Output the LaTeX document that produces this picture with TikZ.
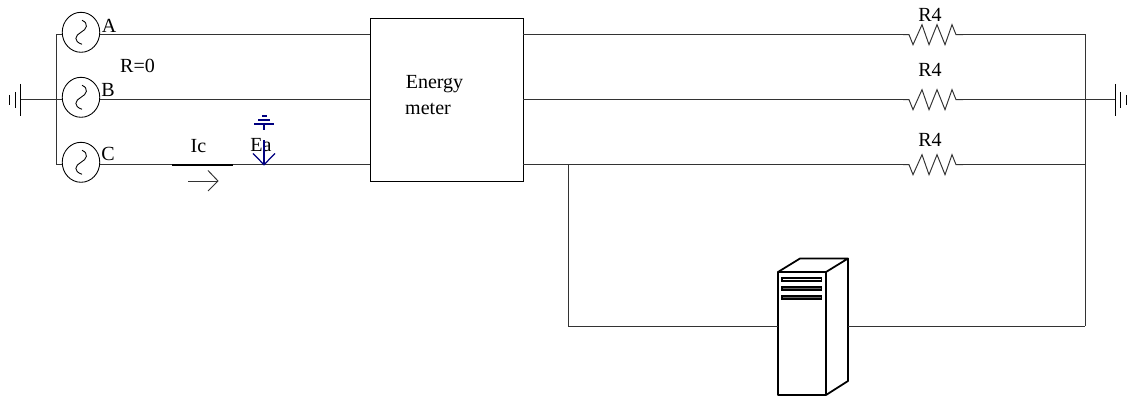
\documentclass[tikz,border=0pt]{standalone}
\usepackage{fontspec}
\setmainfont{Liberation Serif}
\usetikzlibrary{shapes.geometric}
\tikzset{
    wire/.style={line width=0.55pt, black!80},
    phase/.style={draw, ellipse, line width=0.5pt, inner sep=0pt, minimum width=37.5*0.02cm, minimum height=40*0.02cm},
    lbl/.style={inner sep=0pt, font=\fontsize{11.4pt}{13pt}\selectfont},
    pics/wave/.style={code={\draw[line width=0.5pt] (1,-12) .. controls (8,-9) and (6,-3) .. (0,0) .. controls (-6,3) and (-8,9) .. (1,12);}},
    pics/zigzag/.style={code={\draw[wire] (-27,0) -- (-21,0) -- (-17,10) -- (-8,-10) -- (-1,10) -- (7,-10) -- (15,10) -- (22,-10) -- (26,0) -- (33,0);}},
}
\begin{document}
\begin{tikzpicture}[x=0.02cm, y=-0.02cm]
                    \useasboundingbox (0,0) rectangle (1129,398);

                    \node[phase] (SA) at (81,32.3) {};
                    \node[phase] (SB) at (81,97.3) {};
                    \node[phase] (SC) at (81,162.3) {};
                    \pic at (SA) {wave};
                    \pic at (SB) {wave};
                    \pic at (SC) {wave};
                    \node[lbl, anchor=base west] (LA) at (101.5,32.5) {A};
                    \node[lbl, anchor=base west] (LB) at (101,96.5) {B};
                    \node[lbl, anchor=base west] (LC) at (101,160.5) {C};
                    \node[lbl] (R0) at (137.5,66) {R=0};

                    \node[draw, line width=0.55pt, minimum width=153*0.02cm, minimum height=163*0.02cm, inner sep=0pt] (EM) at (446.5,99.5) {};
                    \node[lbl] (E1) at (434.5,84.5) {Energy};
                    \node[lbl] (E2) at (428,108.5) {meter};

                    % left bus
                    \coordinate (BA) at (56,34.7);
                    \coordinate (BB) at (56,99.7);
                    \coordinate (BC) at (56,164.7);
                    \coordinate (GL) at (20.5,99.7);
                    \draw[wire] (SA.west |- BA) -- (BA) -- (BC) -- (SC.west |- BC);
                    \draw[wire] (GL) -- (SB.west |- BB);
                    \draw[line width=0.55pt] (20.5,84) -- (20.5,116);
                    \draw[line width=0.55pt] (15,92) -- (15,108);
                    \draw[line width=0.55pt] (9.7,95) -- (9.7,105);

                    % lines into the meter
                    \draw[wire] (SA.east |- BA) -- (EM.west |- BA);
                    \draw[wire] (SB.east |- BB) -- (EM.west |- BB);
                    \draw[wire] (SC.east |- BC) -- (EM.west |- BC);
                    \coordinate (I1) at (172,164.7);
                    \coordinate (I2) at (233,164.7);
                    \draw[line width=1pt] (I1) -- (I2);
                    \node[lbl] (Ic) at (198.5,146.5) {Ic};
                    \coordinate (A1) at (188,181);
                    \coordinate (A2) at (218,181);
                    \draw[wire] (A1) -- (A2);
                    \draw[wire] (208,170.5) -- (A2) -- (208,191);

                    % fault mark
                    \node[lbl] (Ea) at (261,145) {Ea};
                    \coordinate (F) at (264,164.7);
                    \draw[blue!50!black, line width=0.7pt] (F) -- (264,140);
                    \draw[blue!50!black, line width=0.7pt] (253,153.5) -- (F) -- (275,153.5);
                    \draw[blue!50!black, line width=0.7pt] (264,130) -- (264,124);
                    \draw[blue!50!black, line width=0.7pt] (254,124) -- (274,124);
                    \draw[blue!50!black, line width=0.7pt] (258,120) -- (270,120);
                    \draw[blue!50!black, line width=0.7pt] (262,116) -- (267,116);

                    % right side
                    \coordinate (RA) at (1085,34.7);
                    \coordinate (RB) at (1085,99.7);
                    \coordinate (RC) at (1085,164.7);
                    \coordinate (RD) at (1085,326.5);
                    \coordinate (T) at (568,164.7);
                    \coordinate (TD) at (568,326.5);
                    \coordinate (GR) at (1115,99.7);
                    \pic at (930,34.7) {zigzag};
                    \pic at (930,99.7) {zigzag};
                    \pic at (930,164.7) {zigzag};
                    \node[lbl] (R1) at (930,14.5) {R4};
                    \node[lbl] (R2) at (930,69.5) {R4};
                    \node[lbl] (R3) at (930,139.5) {R4};
                    \draw[wire] (EM.east |- RA) -- (903,34.7);
                    \draw[wire] (EM.east |- RB) -- (903,99.7);
                    \draw[wire] (EM.east |- RC) -- (903,164.7);
                    \draw[wire] (963,34.7) -- (RA) -- (RD);
                    \draw[wire] (963,99.7) -- (GR);
                    \draw[wire] (963,164.7) -- (RC);
                    \draw[line width=0.55pt] (1115,84) -- (1115,116);
                    \draw[line width=0.55pt] (1120.7,92) -- (1120.7,108);
                    \draw[line width=0.55pt] (1126.5,95) -- (1126.5,105);

                    % server
                    \coordinate (S1) at (778,272);
                    \coordinate (S2) at (826,272);
                    \coordinate (S3) at (826,395);
                    \coordinate (S4) at (778,395);
                    \coordinate (S5) at (800,258.5);
                    \coordinate (S6) at (848,258.5);
                    \coordinate (S7) at (848,381);
                    \draw[line width=1pt, line join=round] (S1) -- (S2) -- (S3) -- (S4) -- cycle;
                    \draw[line width=1pt, line join=round] (S1) -- (S5) -- (S6) -- (S2);
                    \draw[line width=1pt, line join=round] (S6) -- (S7) -- (S3);
                    \draw[line width=0.8pt, fill=white] (782,278) rectangle (821.5,281);
                    \draw[line width=0.8pt, fill=black!60] (782,287) rectangle (821.5,290);
                    \draw[line width=0.8pt, fill=black!60] (782,296) rectangle (821.5,299);
                    \draw[wire] (T) -- (TD) -- (S1 |- TD);
                    \draw[wire] (S6 |- RD) -- (RD);
                \end{tikzpicture}
\end{document}
